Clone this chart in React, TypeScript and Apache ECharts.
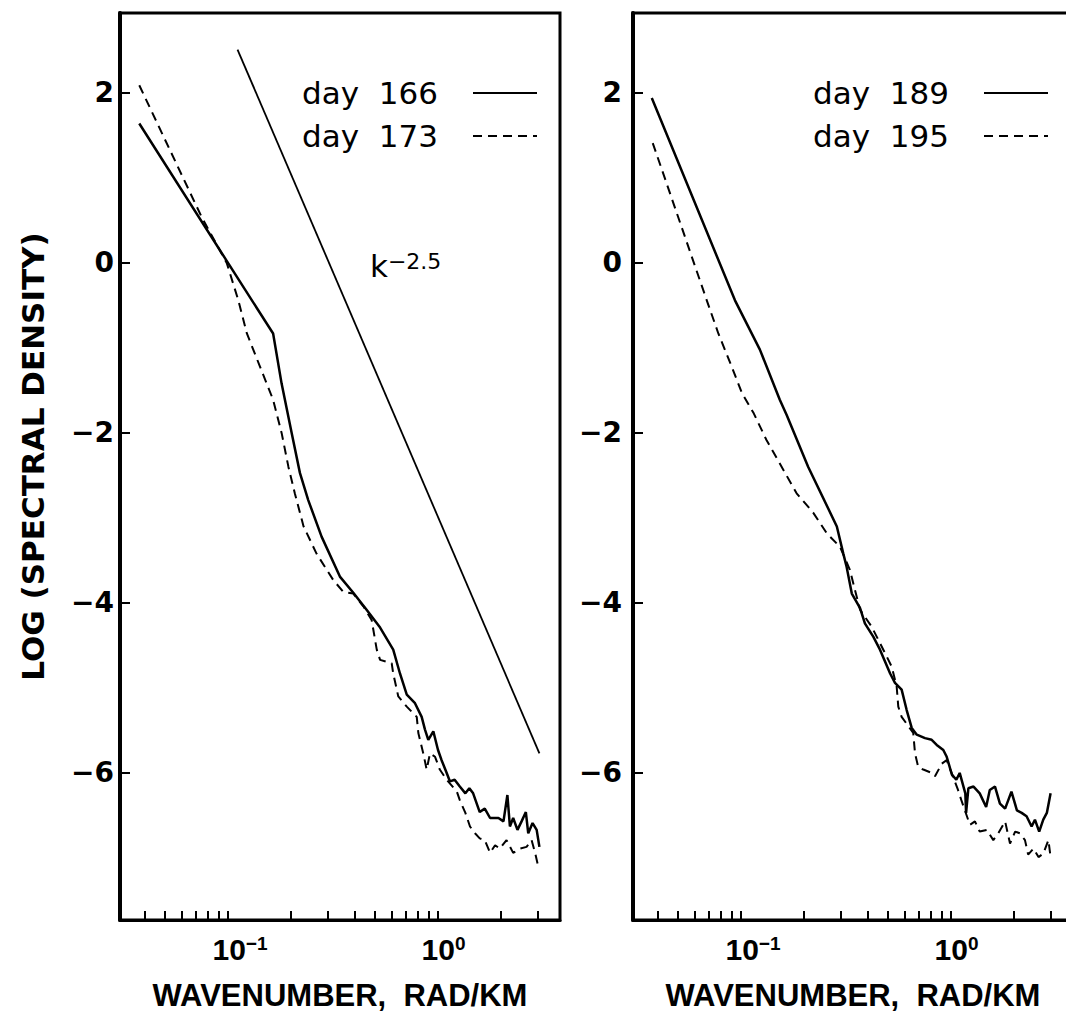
import React, { useEffect, useRef } from 'react';
import * as echarts from 'echarts';

// ---------- data (wavenumber k in rad/km, value = log spectral density) ----------
const xRange = [0.0306, 3.81];
const yRange = [-7.73, 2.94];
const yTicks = [-6, -4, -2, 0, 2];
const xTickValues = [0.04, 0.05, 0.06, 0.07, 0.08, 0.09, 0.1, 0.2, 0.3, 0.4, 0.5, 0.6, 0.7, 0.8, 0.9, 1, 2, 3];
const xLabelValues = [0.1, 1];

const refK = [0.111, 3.04];
const refS = [2.51, -5.77];

const k166 = [0.0378, 0.1, 0.164, 0.18, 0.201, 0.22, 0.241, 0.279, 0.341, 0.395, 0.457, 0.53, 0.612, 0.659, 0.71, 0.777, 0.836, 0.867, 0.899, 0.95, 1.0, 1.04, 1.1, 1.14, 1.2, 1.27, 1.35, 1.41, 1.47, 1.58, 1.67, 1.77, 1.94, 2.05, 2.14, 2.2, 2.28, 2.39, 2.5, 2.62, 2.69, 2.82, 2.95, 3.04];
const s166 = [1.64, 0.0, -0.83, -1.42, -2.0, -2.47, -2.79, -3.22, -3.69, -3.88, -4.08, -4.29, -4.55, -4.83, -5.08, -5.18, -5.34, -5.49, -5.61, -5.51, -5.73, -5.85, -6.0, -6.1, -6.08, -6.16, -6.24, -6.18, -6.24, -6.46, -6.42, -6.53, -6.53, -6.57, -6.26, -6.63, -6.53, -6.67, -6.57, -6.46, -6.71, -6.59, -6.67, -6.87];

const k173 = [0.0378, 0.0749, 0.0986, 0.112, 0.123, 0.142, 0.164, 0.18, 0.194, 0.208, 0.229, 0.264, 0.317, 0.354, 0.395, 0.441, 0.483, 0.511, 0.53, 0.602, 0.612, 0.647, 0.71, 0.792, 0.806, 0.851, 0.883, 0.916, 0.968, 1.02, 1.1, 1.23, 1.27, 1.35, 1.42, 1.5, 1.58, 1.67, 1.77, 1.87, 1.97, 2.12, 2.28, 2.46, 2.64, 2.79, 2.9, 3.0];
const s173 = [2.09, 0.54, 0.0, -0.44, -0.83, -1.22, -1.61, -2.0, -2.4, -2.71, -3.1, -3.42, -3.73, -3.87, -3.89, -4.04, -4.2, -4.55, -4.67, -4.71, -4.83, -5.1, -5.22, -5.34, -5.53, -5.77, -5.96, -5.77, -5.81, -5.96, -6.08, -6.22, -6.32, -6.47, -6.63, -6.71, -6.77, -6.79, -6.94, -6.85, -6.89, -6.79, -6.94, -6.89, -6.87, -6.79, -6.94, -7.1];

const k189 = [0.0376, 0.0936, 0.123, 0.153, 0.165, 0.209, 0.286, 0.307, 0.318, 0.337, 0.369, 0.389, 0.427, 0.459, 0.513, 0.541, 0.582, 0.615, 0.65, 0.687, 0.752, 0.809, 0.855, 0.919, 0.954, 1.01, 1.06, 1.1, 1.17, 1.18, 1.21, 1.28, 1.37, 1.47, 1.53, 1.62, 1.71, 1.81, 1.94, 2.06, 2.17, 2.29, 2.42, 2.51, 2.63, 2.75, 2.86, 2.98];
const s189 = [1.94, -0.44, -1.02, -1.61, -1.79, -2.4, -3.1, -3.42, -3.57, -3.89, -4.06, -4.24, -4.4, -4.55, -4.83, -4.94, -5.02, -5.26, -5.47, -5.55, -5.59, -5.61, -5.67, -5.73, -5.81, -6.02, -6.08, -6.0, -6.24, -6.47, -6.18, -6.16, -6.24, -6.4, -6.2, -6.16, -6.36, -6.42, -6.22, -6.44, -6.47, -6.51, -6.63, -6.55, -6.69, -6.55, -6.47, -6.24];

const k195 = [0.038, 0.0687, 0.078, 0.0903, 0.101, 0.115, 0.132, 0.153, 0.184, 0.221, 0.256, 0.296, 0.33, 0.349, 0.369, 0.419, 0.476, 0.522, 0.551, 0.561, 0.582, 0.661, 0.674, 0.698, 0.738, 0.809, 0.839, 0.904, 0.954, 1.08, 1.12, 1.23, 1.3, 1.37, 1.48, 1.59, 1.68, 1.81, 1.91, 2.02, 2.13, 2.25, 2.33, 2.47, 2.61, 2.75, 2.91, 2.98];
const s195 = [1.41, -0.44, -0.83, -1.22, -1.53, -1.77, -2.08, -2.36, -2.71, -2.94, -3.18, -3.34, -3.61, -3.85, -4.08, -4.28, -4.55, -4.75, -4.98, -5.22, -5.34, -5.53, -5.77, -5.93, -5.96, -6.0, -6.04, -5.89, -5.85, -6.2, -6.32, -6.61, -6.57, -6.69, -6.67, -6.79, -6.71, -6.57, -6.83, -6.69, -6.71, -6.79, -6.96, -6.89, -6.99, -6.95, -6.79, -6.99];

const leftNames = ['day 166', 'day 173'];
const rightNames = ['day 189', 'day 195'];

// ---------- helpers ----------
const toPts = (ks: number[], ss: number[]) => ks.map((k, i) => [Math.log10(k), ss[i]]);
const FRAME = '#000';
const DASH = [9, 6];

const xAxisFor = (gridIndex: number) => ({
  type: 'value',
  gridIndex,
  min: Math.log10(xRange[0]),
  max: Math.log10(xRange[1]),
  name: 'WAVENUMBER,  RAD/KM',
  nameLocation: 'middle',
  nameGap: 60,
  nameTextStyle: { fontFamily: 'Liberation Sans', fontWeight: 'bold', fontSize: 31, color: '#000' },
  axisLine: { show: true, onZero: false, lineStyle: { color: FRAME, width: 3 } },
  axisTick: {
    show: true,
    inside: true,
    length: 9,
    lineStyle: { color: FRAME, width: 2 },
    customValues: xTickValues.map((v) => Math.log10(v)),
  },
  axisLabel: {
    show: true,
    customValues: xLabelValues.map((v) => Math.log10(v)),
    margin: 14,
    color: '#000',
    fontFamily: 'Liberation Sans',
    fontWeight: 'bold',
    fontSize: 30,
    formatter: (v: number) => {
      const e = Math.round(v);
      return e < 0 ? '{p1| }10{sup|\u2212' + Math.abs(e) + '}' : '{p0| }10{sup|' + e + '}';
    },
    rich: {
      p1: { width: 24, fontSize: 19 },
      p0: { width: 11, fontSize: 19 },
      sup: {
        fontFamily: 'Liberation Sans',
        fontWeight: 'bold',
        fontSize: 19,
        color: '#000',
        verticalAlign: 'top',
        padding: [0, 0, 12, 0],
      },
    },
  },
  splitLine: { show: false },
});

const yAxisFor = (gridIndex: number, margin: number, withName: boolean) => ({
  type: 'value',
  gridIndex,
  min: yRange[0],
  max: yRange[1],
  name: withName ? 'LOG (SPECTRAL DENSITY)' : '',
  nameLocation: 'middle',
  nameGap: 72,
  nameRotate: 90,
  nameTextStyle: {
    fontFamily: 'DejaVu Sans',
    fontWeight: 'bold',
    fontSize: 31,
    color: '#000',
    padding: [0, 0, 0, 20],
  },
  axisLine: { show: true, onZero: false, lineStyle: { color: FRAME, width: 4 } },
  axisTick: {
    show: true,
    inside: true,
    length: 10,
    lineStyle: { color: FRAME, width: 2 },
    customValues: yTicks,
  },
  axisLabel: {
    show: true,
    customValues: yTicks,
    margin,
    color: '#000',
    fontFamily: 'DejaVu Sans',
    fontWeight: 'bold',
    fontSize: 28,
    formatter: (v: number) => (v < 0 ? '\u2212' + Math.abs(v) : String(v)),
  },
  splitLine: { show: false },
});

const legendFor = (names: string[], left: number) => ({
  data: names,
  left,
  top: 71,
  orient: 'vertical',
  align: 'right',
  itemWidth: 64,
  itemHeight: 20,
  itemGap: 9,
  selectedMode: false,
  formatter: (name: string) => '{n|' + name.replace(' ', '  ') + '}',
  itemStyle: { color: 'rgba(0,0,0,0)', borderWidth: 0, opacity: 0 },
  textStyle: {
    color: '#000',
    fontFamily: 'DejaVu Sans',
    fontSize: 31,
    lineHeight: 34,
    rich: {
      n: { width: 166, align: 'left', fontFamily: 'DejaVu Sans', fontSize: 31, lineHeight: 34, color: '#000' },
    },
  },
});

const lineSeries = (name: string, axis: number, pts: number[][], dashed: boolean, width: number) => ({
  type: 'line',
  name,
  xAxisIndex: axis,
  yAxisIndex: axis,
  data: pts,
  symbol: 'none',
  showSymbol: false,
  smooth: false,
  lineStyle: { color: '#000', width, type: dashed ? DASH : 'solid' },
  itemStyle: { color: '#000' },
  emphasis: { disabled: true },
  silent: true,
  z: 3,
});

export default function App() {
  const ref = useRef<HTMLDivElement>(null);
  useEffect(() => {
    if (!ref.current) return;
    const chart = echarts.init(ref.current, undefined, { renderer: 'svg' });
    chart.setOption({
      animation: false,
      backgroundColor: '#fff',
      textStyle: { fontFamily: 'DejaVu Sans' },
      grid: [
        { left: 120, top: 13, width: 440, height: 907, show: true, borderColor: FRAME, borderWidth: 3, backgroundColor: 'transparent', outerBoundsMode: 'none' },
        { left: 633, top: 13, width: 440, height: 907, show: true, borderColor: FRAME, borderWidth: 3, backgroundColor: 'transparent', outerBoundsMode: 'none' },
      ],
      xAxis: [xAxisFor(0), xAxisFor(1)],
      yAxis: [yAxisFor(0, 6, true), yAxisFor(1, 11, false)],
      legend: [legendFor(leftNames, 297), legendFor(rightNames, 808)],
      series: [
        lineSeries('k^-2.5', 0, toPts(refK, refS), false, 1.8),
        lineSeries(leftNames[0], 0, toPts(k166, s166), false, 2.5),
        lineSeries(leftNames[1], 0, toPts(k173, s173), true, 2),
        lineSeries(rightNames[0], 1, toPts(k189, s189), false, 2.5),
        lineSeries(rightNames[1], 1, toPts(k195, s195), true, 2),
      ],
      graphic: [
        {
          type: 'text',
          left: 370,
          top: 250,
          silent: true,
          style: {
            text: '{k|k}{s|\u22122.5}',
            rich: {
              k: { fontFamily: 'DejaVu Sans', fontSize: 31, fill: '#000', color: '#000', verticalAlign: 'bottom' },
              s: { fontFamily: 'DejaVu Sans', fontSize: 22, fill: '#000', color: '#000', verticalAlign: 'top' },
            },
          },
        },
      ],
    });
    return () => chart.dispose();
  }, []);
  return (
    <div
      ref={ref}
      style={{ position: 'absolute', left: 0, top: 0, width: 1066, height: 1018, background: '#fff' }}
    />
  );
}
